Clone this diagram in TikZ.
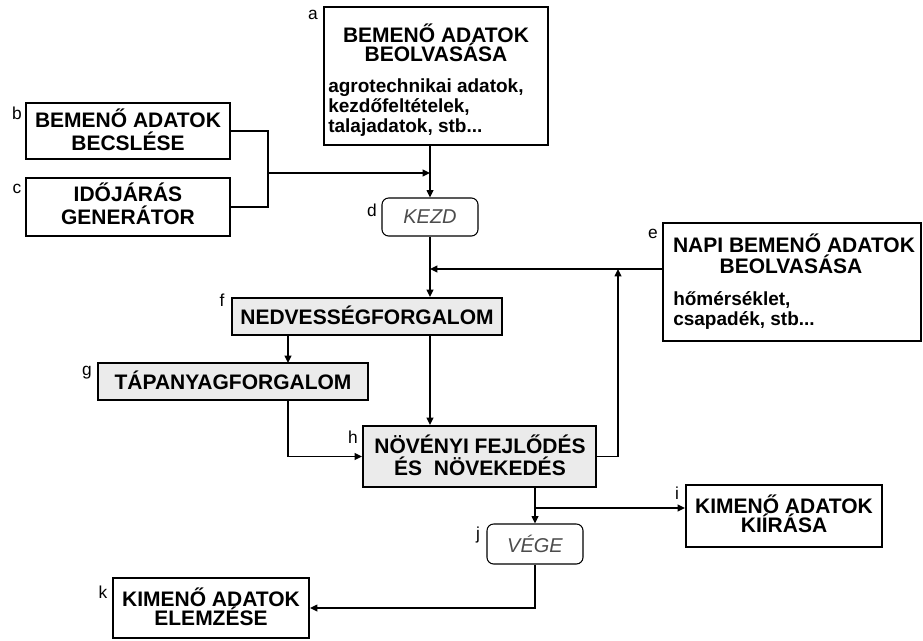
\documentclass[tikz,border=0pt]{standalone}
\usepackage{fontspec}
\setmainfont{Liberation Sans}
\usetikzlibrary{arrows.meta,fit,calc}
\begin{document}
\begin{tikzpicture}[x=0.75pt,y=-0.75pt,
  box/.style={draw, line width=1.5pt, inner sep=0pt, fill=white},
  gbox/.style={box, fill=black!8},
  rbox/.style={draw, line width=0.8pt, rounded corners=5pt, inner sep=0pt},
  ttl/.style={font=\bfseries\fontsize{15.75pt}{18pt}\selectfont, inner sep=0pt, anchor=base},
  sml/.style={font=\bfseries\fontsize{14.25pt}{16pt}\selectfont, inner sep=0pt, anchor=base west},
  lbl/.style={font=\fontsize{13pt}{15pt}\selectfont, inner sep=0pt},
  itx/.style={font=\itshape\fontsize{15pt}{17pt}\selectfont, text=black!70, inner sep=0pt},
  ln/.style={line width=1.1pt},
  arr/.style={ln, -{Triangle[length=5.5pt,width=5pt]}}]
\useasboundingbox (0,0) rectangle (923,640);

% boxes
\node[box, fit={(324,7)(548,145)}] (a) {};
\node[box, fit={(26,103)(230,159)}] (b) {};
\node[box, fit={(26,178)(230,236)}] (c) {};
\node[rbox, fit={(382,198)(478,236)}] (d) {};
\node[box, fit={(663,223)(921,341)}] (e) {};
\node[gbox, fit={(232,298)(502,335)}] (f) {};
\node[gbox, fit={(98,363)(368,400)}] (g) {};
\node[gbox, fit={(363,426)(596,487)}] (h) {};
\node[box, fit={(686,485)(882,547)}] (i) {};
\node[rbox, fit={(487,524)(583,564)}] (j) {};
\node[box, fit={(113,578)(309,638)}] (k) {};

% texts
\node[ttl] (a1) at (436,42) {BEMENŐ ADATOK};
\node[ttl] (a2) at (436,61) {BEOLVASÁSA};
\node[sml] (a3) at (328,92) {agrotechnikai adatok,};
\node[sml] (a4) at (328,112) {kezdőfeltételek,};
\node[sml] (a5) at (328,132) {talajadatok, stb...};
\node[ttl] (b1) at (128,127) {BEMENŐ ADATOK};
\node[ttl] (b2) at (128,150) {BECSLÉSE};
\node[ttl] (c1) at (128,201) {IDŐJÁRÁS};
\node[ttl] (c2) at (128,224) {GENERÁTOR};
\node[itx] (d1) at (d.center) {KEZD};
\node[ttl] (e1) at (794,252) {NAPI BEMENŐ ADATOK};
\node[ttl] (e2) at (791,273) {BEOLVASÁSA};
\node[sml] (e3) at (673,305) {hőmérséklet,};
\node[sml] (e4) at (673,325) {csapadék, stb...};
\node[ttl] (f1) at (367,324) {NEDVESSÉGFORGALOM};
\node[ttl] (g1) at (233,389) {TÁPANYAGFORGALOM};
\node[ttl] (h1) at (480,453) {NÖVÉNYI FEJLŐDÉS};
\node[ttl] (h2) at (480,475) {ÉS\ \ NÖVEKEDÉS};
\node[ttl] (i1) at (784,513) {KIMENŐ ADATOK};
\node[ttl] (i2) at (784,532) {KIÍRÁSA};
\node[itx] (j1) at (j.center) {VÉGE};
\node[ttl] (k1) at (211,606) {KIMENŐ ADATOK};
\node[ttl] (k2) at (211,625) {ELEMZÉSE};

% letter labels
\node[lbl] (la) at (313,15) {a};
\node[lbl] (lb) at (17,113) {b};
\node[lbl] (lc) at (17,189) {c};
\node[lbl] (ld) at (372,210) {d};
\node[lbl] (le) at (653,234) {e};
\node[lbl] (lf) at (222,300) {f};
\node[lbl] (lg) at (87,373) {g};
\node[lbl] (lh) at (353,437) {h};
\node[lbl] (li) at (677,493) {i};
\node[lbl] (lj) at (478,535) {j};
\node[lbl] (lk) at (103,592) {k};

% helper coordinates
\coordinate (jb) at (268,173);
\coordinate (ein) at (663,269);
\coordinate (hup) at (618,269);
\coordinate (fgx) at (288,363);
\coordinate (br) at (535,508);

% connectors
\draw[arr] (a.south -| d.north) -- (d.north);
\draw[ln] (b.east) -| (jb);
\draw[ln] (c.east) -| (jb);
\draw[arr] (jb) -- (jb -| d.north);
\draw[arr] (d.south) -- (d.south |- f.north);
\draw[arr] (ein) -- (ein -| d.south);
\draw[arr] (h.east) -| (hup);
\draw[arr] (f.south -| fgx) -- (fgx);
\draw[arr] (f.south -| d.south) -- (h.north -| d.south);
\draw[arr] (g.south -| fgx) |- (h.west);
\draw[arr] (h.south -| j.north) -- (j.north);
\draw[arr] (br) -- (br -| i.west);
\draw[arr] (j.south) |- (k.east);
\end{tikzpicture}
\end{document}
